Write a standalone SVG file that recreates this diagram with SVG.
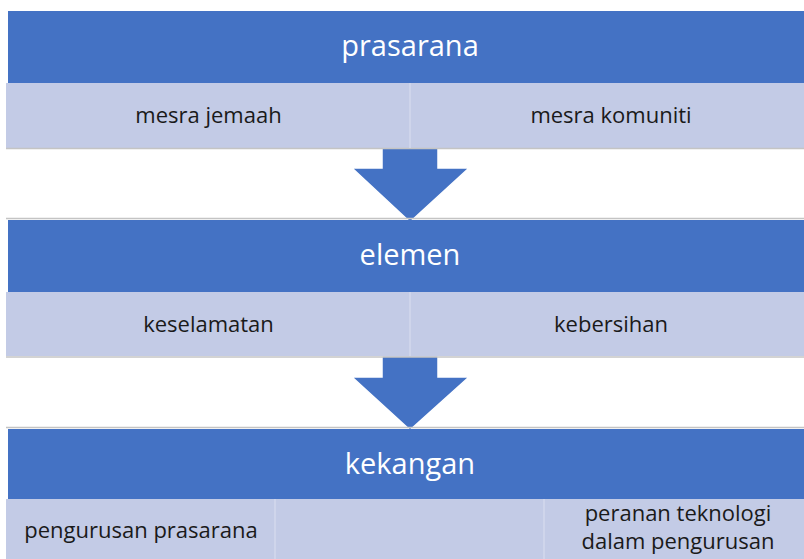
<svg xmlns="http://www.w3.org/2000/svg" width="804" height="559" viewBox="0 0 804 559">
<style>
.hdr{fill:#4472C4}
.sub{fill:#C3CBE6}
.div{stroke:#D3D8EC;stroke-width:1.5}
.shadow{stroke:#C4C4C4;stroke-width:1.5}
.arrow{fill:#4472C4;stroke:#FFFFFF;stroke-width:1.5}
.ht{font-family:"Open Sans",sans-serif;font-size:29px;fill:#FFFFFF;text-anchor:middle}
.st{font-family:"Open Sans",sans-serif;font-size:22px;fill:#1A1A1A;text-anchor:middle}
</style>
<rect width="804" height="559" fill="#FFFFFF"/>
<g id="connectors">
<path class="arrow" d="M382,148 L438,148 L438,168 L469,168 L410,222 L352,168 L382,168 Z"/>
<path class="arrow" d="M382,356 L438,356 L438,377 L469,377 L410,430 L352,377 L382,377 Z"/>
</g>
<g id="prasarana">
<rect class="hdr" x="8" y="11" width="796" height="72"/>
<text class="ht" x="410" y="56">prasarana</text>
</g>
<g id="prasarana-sub">
<rect class="sub" x="6" y="83" width="798" height="65"/>
<line class="shadow" x1="6" y1="148.5" x2="804" y2="148.5"/>
<line class="div" x1="410" y1="83" x2="410" y2="148"/>
<text class="st" x="208.5" y="123">mesra jemaah</text>
<text class="st" x="611" y="123">mesra komuniti</text>
</g>
<g id="elemen">
<line class="shadow" x1="6" y1="218.5" x2="804" y2="218.5"/>
<rect class="hdr" x="8" y="220" width="796" height="72"/>
<text class="ht" x="410" y="265">elemen</text>
</g>
<g id="elemen-sub">
<rect class="sub" x="6" y="292" width="798" height="64"/>
<line class="shadow" x1="6" y1="357" x2="804" y2="357"/>
<line class="div" x1="410" y1="292" x2="410" y2="356"/>
<text class="st" x="208.5" y="332">keselamatan</text>
<text class="st" x="611" y="332">kebersihan</text>
</g>
<g id="kekangan">
<line class="shadow" x1="6" y1="427.5" x2="804" y2="427.5"/>
<rect class="hdr" x="8" y="429" width="796" height="70"/>
<text class="ht" x="410" y="474">kekangan</text>
</g>
<g id="kekangan-sub">
<rect class="sub" x="6" y="499" width="798" height="60"/>
<line class="div" x1="275" y1="499" x2="275" y2="559"/>
<line class="div" x1="544" y1="499" x2="544" y2="559"/>
<text class="st" x="141" y="538">pengurusan prasarana</text>
<text class="st" x="678" y="521">peranan teknologi</text>
<text class="st" x="678" y="549">dalam pengurusan</text>
</g>
</svg>
